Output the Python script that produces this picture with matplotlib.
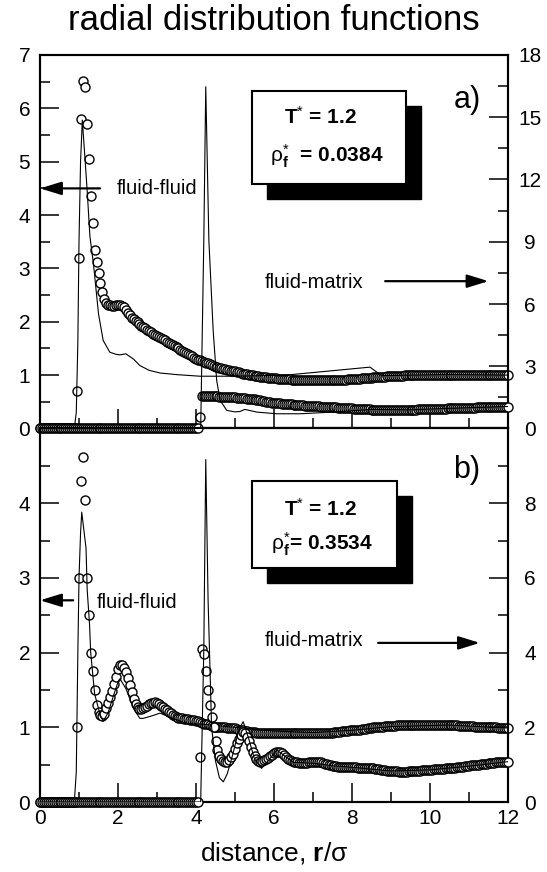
import numpy as np
import matplotlib
matplotlib.use('Agg')
import matplotlib.pyplot as plt
from matplotlib.patches import Rectangle
from matplotlib.ticker import MultipleLocator, FixedLocator

# simulation grid (circles)
r_sim = np.round(np.arange(0, 12.001, 0.05), 2)

# panel a) rho_f = 0.0384
ff_sim_a = [0.0] * 19 + [
    0.7, 3.2,
    5.8, 6.52, 6.4, 5.7, 5.05, 4.35, 3.85, 3.35, 3.12, 2.92,
    2.72, 2.55, 2.42, 2.35, 2.32, 2.31, 2.3, 2.3, 2.31, 2.31,
    2.31, 2.3, 2.27, 2.22, 2.17, 2.12, 2.08, 2.05, 2.02, 1.99,
    1.96, 1.93, 1.9, 1.88, 1.85, 1.83, 1.8, 1.78, 1.75, 1.73,
    1.71, 1.69, 1.67, 1.65, 1.63, 1.61, 1.59, 1.56, 1.54, 1.52,
    1.5, 1.47, 1.45, 1.43, 1.41, 1.39, 1.37, 1.35, 1.33, 1.31,
    1.29, 1.28, 1.26, 1.25, 1.23, 1.22, 1.2, 1.19, 1.17, 1.16,
    1.15, 1.14, 1.13, 1.12, 1.11, 1.1, 1.09, 1.08, 1.08, 1.07,
    1.06, 1.05, 1.04, 1.03, 1.03, 1.02, 1.01, 1.0, 1.0, 0.99,
    0.98, 0.98, 0.97, 0.97, 0.96, 0.96, 0.95, 0.95, 0.94, 0.94,
    0.94, 0.93, 0.93, 0.93, 0.92, 0.92, 0.92, 0.92, 0.91, 0.91,
    0.91, 0.91, 0.91, 0.9, 0.9, 0.9, 0.9, 0.9, 0.9, 0.9,
    0.9, 0.9, 0.9, 0.9, 0.9, 0.9, 0.9, 0.9, 0.9, 0.9,
    0.9, 0.9, 0.9, 0.91, 0.91, 0.91, 0.91, 0.92, 0.92, 0.92,
    0.92, 0.93, 0.93, 0.93, 0.94, 0.94, 0.94, 0.95, 0.95, 0.95,
    0.96, 0.96, 0.96, 0.97, 0.97, 0.97, 0.97, 0.98, 0.98, 0.98,
    0.98, 0.99, 0.99, 0.99, 0.99, 0.99, 1.0, 1.0, 1.0, 1.0,
    1.0, 1.0, 1.0, 1.01, 1.01, 1.01, 1.01, 1.01, 1.01, 1.01,
    1.01, 1.01, 1.01, 1.01, 1.01, 1.01, 1.01, 1.01, 1.01, 1.01,
    1.01, 1.01, 1.01, 1.01, 1.01, 1.01, 1.01, 1.01, 1.01, 1.01,
    1.01, 1.01, 1.01, 1.01, 1.01, 1.0, 1.0, 1.0, 1.0, 1.0,
    1.0, 1.0, 1.0, 1.0, 1.0, 1.0, 1.0, 1.0, 1.0, 1.0,
]
fm_sim_a = [0.0] * 82 + [
    0.55, 1.55, 1.56, 1.56, 1.56, 1.56, 1.55, 1.55, 1.55,
    1.55, 1.54, 1.54, 1.53, 1.53, 1.52, 1.52, 1.51, 1.51, 1.5,
    1.49, 1.48, 1.47, 1.46, 1.45, 1.44, 1.43, 1.42, 1.41, 1.4,
    1.38, 1.37, 1.35, 1.33, 1.31, 1.29, 1.27, 1.26, 1.25, 1.24,
    1.23, 1.22, 1.21, 1.2, 1.19, 1.18, 1.17, 1.16, 1.16, 1.15,
    1.14, 1.13, 1.12, 1.12, 1.11, 1.1, 1.1, 1.09, 1.09, 1.08,
    1.08, 1.07, 1.07, 1.06, 1.06, 1.05, 1.05, 1.04, 1.04, 1.03,
    1.03, 1.02, 1.01, 1.01, 1.0, 1.0, 0.99, 0.98, 0.98, 0.97,
    0.96, 0.96, 0.95, 0.95, 0.94, 0.93, 0.93, 0.92, 0.92, 0.91,
    0.91, 0.91, 0.9, 0.9, 0.9, 0.9, 0.89, 0.89, 0.89, 0.89,
    0.89, 0.89, 0.89, 0.89, 0.89, 0.9, 0.9, 0.9, 0.9, 0.9,
    0.91, 0.91, 0.91, 0.92, 0.92, 0.92, 0.93, 0.93, 0.93, 0.94,
    0.94, 0.94, 0.95, 0.95, 0.95, 0.96, 0.96, 0.96, 0.97, 0.97,
    0.97, 0.98, 0.98, 0.98, 0.99, 0.99, 0.99, 1.0, 1.0, 1.0,
    1.01, 1.01, 1.01, 1.02, 1.02, 1.02, 1.03, 1.03, 1.03, 1.04,
    1.04, 1.04, 1.04, 1.05, 1.05, 1.05, 1.05, 1.06, 1.06, 1.06,
]
ff_line_a_r = [0.0, 0.88, 0.93, 0.97, 1.0, 1.04, 1.085, 1.15, 1.21, 1.28, 1.37, 1.5, 1.62,
               1.79, 1.95, 2.05, 2.2, 2.4, 2.56, 2.8, 3.08, 3.5, 4.1, 5.0, 6.3, 8.46, 8.63,
               8.76, 9.5, 10.5, 12.0]
ff_line_a = [0.0, 0.0, 0.3, 1.6, 3.5, 5.0, 5.78, 5.1, 4.45, 3.6, 3.09, 2.15, 1.65,
             1.43, 1.39, 1.38, 1.4, 1.3, 1.18, 1.09, 1.04, 1.01, 0.98, 0.98, 1.0, 1.15, 1.06,
             0.99, 1.0, 1.01, 1.0]
fm_line_a_r = [0.0, 4.12, 4.2, 4.25, 4.33, 4.44, 4.53, 4.62, 4.79, 5.0, 5.13, 5.25, 5.35,
               5.56, 6.07, 6.67, 7.5, 8.5, 9.5, 10.5, 12.0]
fm_line_a = [0.0, 0.0, 9.07, 16.47, 9.07, 4.73, 2.32, 1.35, 0.87, 0.8, 0.82, 0.92, 0.88,
             0.79, 0.71, 0.71, 0.79, 0.92, 0.9, 0.97, 1.06]

# panel b) rho_f = 0.3534
ff_sim_b = [0.0] * 19 + [
    1.0, 3.0,
    4.3, 4.62, 4.04, 3.0, 2.5, 2.0, 1.76, 1.5, 1.3, 1.2,
    1.16, 1.15, 1.18, 1.26, 1.33, 1.4, 1.48, 1.58, 1.68, 1.78,
    1.83, 1.84, 1.8, 1.74, 1.66, 1.57, 1.47, 1.38, 1.31, 1.27,
    1.25, 1.25, 1.26, 1.27, 1.29, 1.31, 1.32, 1.33, 1.34, 1.33,
    1.31, 1.29, 1.27, 1.25, 1.23, 1.21, 1.19, 1.17, 1.15, 1.14,
    1.13, 1.12, 1.12, 1.11, 1.11, 1.11, 1.1, 1.1, 1.1, 1.09,
    1.08, 1.07, 1.06, 1.05, 1.05, 1.04, 1.03, 1.02, 1.01, 1.01,
    1.0, 1.0, 1.0, 1.0, 1.0, 0.99, 0.99, 0.99, 0.99, 0.99,
    0.98, 0.97, 0.97, 0.96, 0.95, 0.95, 0.94, 0.94, 0.94, 0.94,
    0.93, 0.93, 0.93, 0.93, 0.93, 0.93, 0.93, 0.93, 0.93, 0.93,
    0.92, 0.92, 0.92, 0.92, 0.92, 0.92, 0.92, 0.92, 0.92, 0.92,
    0.92, 0.92, 0.92, 0.92, 0.92, 0.92, 0.92, 0.92, 0.92, 0.92,
    0.92, 0.92, 0.92, 0.93, 0.93, 0.93, 0.93, 0.93, 0.93, 0.93,
    0.94, 0.94, 0.94, 0.94, 0.95, 0.95, 0.95, 0.95, 0.96, 0.96,
    0.96, 0.97, 0.97, 0.97, 0.98, 0.98, 0.98, 0.99, 0.99, 0.99,
    1.0, 1.0, 1.0, 1.01, 1.01, 1.01, 1.02, 1.02, 1.02, 1.02,
    1.02, 1.02, 1.03, 1.03, 1.03, 1.03, 1.03, 1.03, 1.03, 1.03,
    1.03, 1.03, 1.03, 1.03, 1.03, 1.03, 1.03, 1.03, 1.03, 1.03,
    1.03, 1.03, 1.03, 1.03, 1.03, 1.03, 1.03, 1.03, 1.03, 1.03,
    1.03, 1.03, 1.03, 1.03, 1.02, 1.02, 1.02, 1.02, 1.02, 1.02,
    1.02, 1.02, 1.01, 1.01, 1.01, 1.01, 1.01, 1.0, 1.0, 1.0,
    1.0, 1.0, 1.0, 1.0, 0.99, 0.99, 0.99, 0.99, 0.99, 0.99,
]
fm_sim_b = [0.0] * 82 + [
    1.2, 4.1, 3.95, 3.5, 3.0, 2.6, 2.28, 2.0, 1.63,
    1.38, 1.22, 1.15, 1.1, 1.08, 1.08, 1.12, 1.2, 1.29, 1.42,
    1.57, 1.7, 1.8, 1.87, 1.85, 1.75, 1.63, 1.48, 1.34, 1.22,
    1.14, 1.1, 1.08, 1.1, 1.13, 1.16, 1.19, 1.22, 1.26, 1.3,
    1.33, 1.35, 1.35, 1.32, 1.27, 1.21, 1.16, 1.13, 1.1, 1.08,
    1.07, 1.06, 1.05, 1.04, 1.04, 1.04, 1.05, 1.06, 1.07, 1.07,
    1.08, 1.08, 1.08, 1.07, 1.05, 1.03, 1.01, 0.99, 0.98, 0.97,
    0.96, 0.96, 0.95, 0.95, 0.95, 0.95, 0.94, 0.94, 0.94, 0.93,
    0.93, 0.93, 0.92, 0.92, 0.92, 0.91, 0.91, 0.91, 0.9, 0.9,
    0.9, 0.89, 0.89, 0.88, 0.87, 0.86, 0.85, 0.84, 0.83, 0.83,
    0.82, 0.82, 0.82, 0.81, 0.81, 0.81, 0.81, 0.81, 0.82, 0.82,
    0.82, 0.83, 0.83, 0.84, 0.84, 0.85, 0.85, 0.86, 0.86, 0.87,
    0.87, 0.88, 0.88, 0.88, 0.89, 0.89, 0.89, 0.9, 0.9, 0.9,
    0.91, 0.92, 0.92, 0.93, 0.94, 0.94, 0.95, 0.96, 0.96, 0.97,
    0.98, 0.98, 0.99, 1.0, 1.0, 1.01, 1.02, 1.02, 1.03, 1.04,
    1.04, 1.05, 1.05, 1.06, 1.06, 1.07, 1.07, 1.07, 1.08, 1.08,
]
ff_line_b_r = [0.0, 0.88, 0.93, 0.97, 1.0, 1.04, 1.07, 1.18, 1.21, 1.27, 1.3, 1.4, 1.54,
               1.62, 1.75, 1.9, 2.01, 2.05, 2.2, 2.4, 2.56, 2.65, 2.85, 3.08, 3.3, 3.76,
               4.2, 5.0, 6.0, 7.0, 8.0, 9.0, 10.5, 12.0]
ff_line_b = [0.0, 0.0, 0.4, 1.98, 3.0, 3.6, 3.88, 3.4, 2.84, 2.38, 2.0, 1.45, 1.17,
             1.08, 1.2, 1.45, 1.62, 1.65, 1.52, 1.25, 1.12, 1.12, 1.15, 1.19, 1.14, 1.05,
             1.04, 1.0, 0.95, 0.93, 0.96, 1.01, 1.03, 0.99]
fm_line_b_r = [0.0, 4.12, 4.2, 4.25, 4.31, 4.4, 4.5, 4.6, 4.7, 4.8, 4.95, 5.1, 5.21,
               5.35, 5.5, 5.68, 5.85, 6.07, 6.25, 6.5, 7.0, 7.5, 8.0, 9.0, 10.0, 11.0, 12.0]
fm_line_b = [0.0, 0.0, 4.07, 9.17, 5.4, 2.0, 1.1, 0.65, 0.54, 0.75, 1.3, 1.95, 2.15,
             1.7, 1.15, 0.9, 1.1, 1.39, 1.25, 1.06, 1.04, 0.97, 0.93, 0.83, 0.86, 0.96, 1.08]

plt.rcParams['font.family'] = ['Liberation Sans', 'DejaVu Sans']
plt.rcParams['mathtext.fontset'] = 'custom'
plt.rcParams['mathtext.rm'] = 'Liberation Sans'
plt.rcParams['mathtext.bf'] = 'Liberation Sans:bold'
plt.rcParams['mathtext.it'] = 'Liberation Sans:italic'

W, H = 547, 872
LEFT, RIGHT = 40, 508
TOP_A, MID, BOT_B = 55, 428.5, 802


def style_axes(ax, ax2, left_max, left_labels, right_max, right_step, right_labels, show_x):
    ax.set_xlim(0, 12)
    ax.set_ylim(0, left_max)
    ax2.set_ylim(0, right_max)
    ax.xaxis.set_major_locator(MultipleLocator(2))
    ax.xaxis.set_minor_locator(MultipleLocator(1))
    ax.yaxis.set_major_locator(FixedLocator(np.arange(0, left_max + 0.1, 1)))
    ax.yaxis.set_minor_locator(MultipleLocator(0.5))
    ax.set_yticklabels(left_labels)
    ax2.yaxis.set_major_locator(FixedLocator(np.arange(0, right_max + 0.1, right_step)))
    ax2.yaxis.set_minor_locator(MultipleLocator(right_step / 2))
    ax2.set_yticklabels(right_labels)
    for a in (ax, ax2):
        a.tick_params(which='major', direction='in', length=14, width=1.1, labelsize=15)
        a.tick_params(which='minor', direction='in', length=7, width=1.1)
        for s in a.spines.values():
            s.set_linewidth(1.5)
    ax.tick_params(axis='y', which='both', left=True, right=False, pad=7)
    ax.tick_params(axis='x', which='both', bottom=True, top=False, pad=5,
                   labelbottom=show_x)
    ax2.tick_params(axis='y', which='both', right=True, left=False, pad=16)
    for lab in ax2.get_yticklabels():
        lab.set_horizontalalignment('center')


def shadow_box(ax, x0, y0, w, h, line1, line2, x1c, x2c, y1c, y2c):
    ax.add_patch(Rectangle((x0 + 0.032, y0 - 0.04), w, h, transform=ax.transAxes,
                           facecolor='black', edgecolor='black', zorder=20, clip_on=False))
    ax.add_patch(Rectangle((x0, y0), w, h, transform=ax.transAxes, facecolor='white',
                           edgecolor='black', linewidth=1.5, zorder=21, clip_on=False))
    ax.text(x1c, y1c, line1, transform=ax.transAxes, ha='center', va='center',
            fontsize=15, fontweight='bold', zorder=22)
    ax.text(x2c, y2c, line2, transform=ax.transAxes, ha='center', va='center',
            fontsize=15, fontweight='bold', zorder=22)


def arrow(ax, x_from, x_to, y):
    ax.annotate('', xy=(x_to, y), xytext=(x_from, y),
                arrowprops=dict(arrowstyle='-|>,head_length=0.65,head_width=0.2',
                                mutation_scale=20, lw=1.6, color='black',
                                shrinkA=0, shrinkB=0), zorder=15)


def draw_panel(ax, ax2, ff_sim, fm_sim, ff_line_r, ff_line, fm_line_r, fm_line):
    mk = dict(marker='o', ls='none', ms=6.5, mfc='white', mec='black', mew=1.0,
              clip_on=False)
    ax.plot(r_sim, ff_sim, zorder=3, **mk)
    ax.plot(ff_line_r, ff_line, color='black', lw=0.8, zorder=4)
    ax2.plot(r_sim, fm_sim, zorder=3, **mk)
    ax2.plot(fm_line_r, fm_line, color='black', lw=0.8, zorder=4)


def main():
    fig = plt.figure(figsize=(W / 100, H / 100), dpi=100)
    w = (RIGHT - LEFT) / W
    ax_a = fig.add_axes([LEFT / W, 1 - MID / H, w, (MID - TOP_A) / H])
    ax_b = fig.add_axes([LEFT / W, 1 - BOT_B / H, w, (BOT_B - MID) / H])
    ax_a2 = ax_a.twinx()
    ax_b2 = ax_b.twinx()

    draw_panel(ax_a, ax_a2, ff_sim_a, fm_sim_a, ff_line_a_r, ff_line_a, fm_line_a_r, fm_line_a)
    draw_panel(ax_b, ax_b2, ff_sim_b, fm_sim_b, ff_line_b_r, ff_line_b, fm_line_b_r, fm_line_b)

    style_axes(ax_a, ax_a2, 7, [str(i) for i in range(8)], 18, 3,
               [str(i) for i in range(0, 19, 3)], False)
    style_axes(ax_b, ax_b2, 5, ['0', '1', '2', '3', '4', ''], 10, 2,
               ['0', '2', '4', '6', '8', ''], True)

    # annotations panel a
    arrow(ax_a, 1.54, 0.0, 4.5)
    ax_a.text(1.97, 4.5, 'fluid-fluid', fontsize=14.5, va='center', ha='left')
    arrow(ax_a2, 8.85, 11.5, 7.1)
    ax_a2.text(5.77, 7.06, 'fluid-matrix', fontsize=14.5, va='center', ha='left')
    ax_a.text(10.96, 6.15, 'a)', fontsize=22, ha='center', va='center')
    shadow_box(ax_a, 0.453, 0.654, 0.329, 0.249, r'T$^{*}$ = 1.2',
               r'$\mathrm{\rho}^{*}_{\mathbf{f}}$  = 0.0384', 0.6, 0.613, 0.835, 0.73)

    # annotations panel b
    arrow(ax_b, 0.85, 0.0, 2.7)
    ax_b.text(1.46, 2.67, 'fluid-fluid', fontsize=14.5, va='center', ha='left')
    arrow(ax_b2, 8.67, 11.28, 4.26)
    ax_b2.text(5.77, 4.32, 'fluid-matrix', fontsize=14.5, va='center', ha='left')
    ax_b.text(10.95, 4.45, 'b)', fontsize=22, ha='center', va='center')
    shadow_box(ax_b, 0.453, 0.627, 0.309, 0.232, r'T$^{*}$ = 1.2',
               r'$\mathrm{\rho}^{*}_{\mathbf{f}}$= 0.3534', 0.6, 0.603, 0.785, 0.69)

    fig.text(274 / W, 1 - 20 / H, 'radial distribution functions', ha='center',
             va='center', fontsize=25)
    fig.text(274 / W, 1 - 853 / H, r'distance, $\mathbf{r}$/σ', ha='center', va='center',
             fontsize=19)

    fig.savefig('out.png', dpi=100)
    plt.close()


if __name__ == '__main__':
    main()
